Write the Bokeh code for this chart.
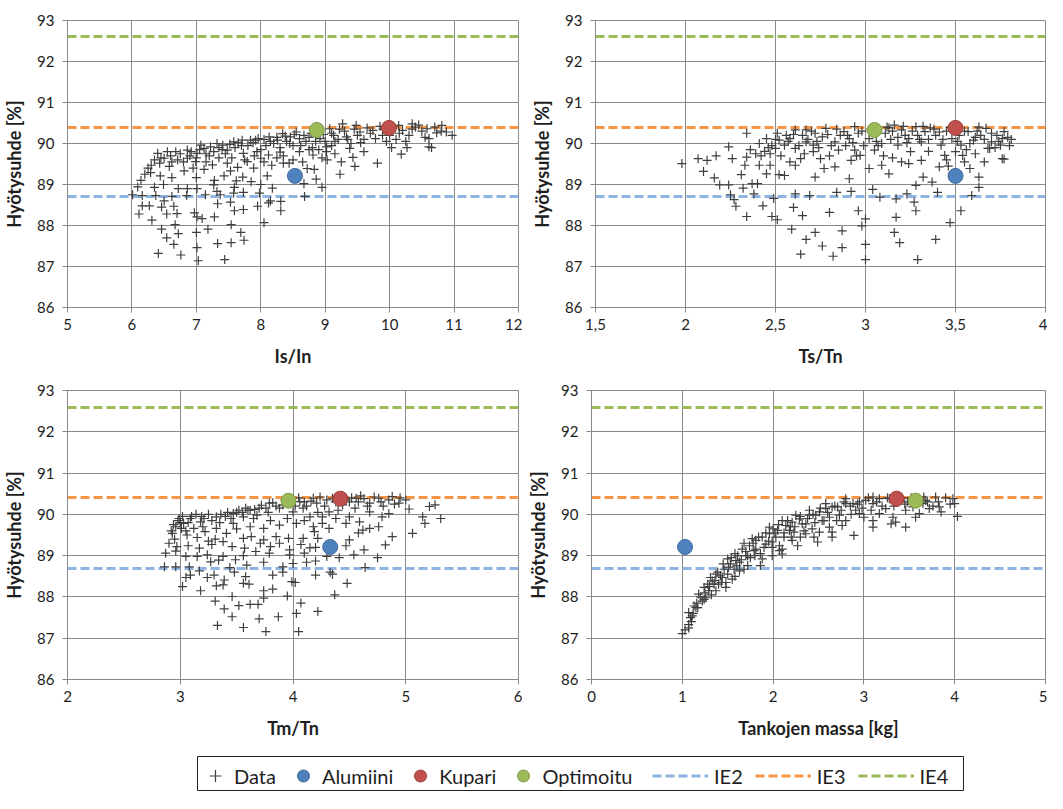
from bokeh.plotting import figure
from bokeh.layouts import column, row
from bokeh.models import Range1d, FixedTicker, Legend, LegendItem
from bokeh.embed import file_html
from bokeh.resources import INLINE

# ---------------- data ----------------
Y_TICKS = [86, 87, 88, 89, 90, 91, 92, 93]
Y_LABEL = "Hyötysuhde [%]"

IE_NAMES = ["IE2", "IE3", "IE4"]
IE_LEVELS = [88.7, 90.4, 92.6]

SPECIAL_NAMES = ["Alumiini", "Kupari", "Optimoitu"]
SPECIAL_ETA = [89.21, 90.38, 90.33]
ISIN_SPECIAL_X = [8.53, 9.99, 8.87]
TSTN_SPECIAL_X = [3.50, 3.50, 3.05]
TMTN_SPECIAL_X = [4.33, 4.42, 3.96]
MASS_SPECIAL_X = [1.03, 3.36, 3.57]

ISIN_POINTS = [
    (6.41, 87.32), (6.76, 87.28), (7.03, 87.14), (7.44, 87.17), (6.65, 87.54), (6.54, 87.70), (6.72, 87.80),
    (6.46, 87.91), (7.00, 87.83), (7.01, 87.46), (7.33, 87.56), (7.54, 87.58), (7.69, 87.83), (7.74, 87.64),
    (7.18, 87.91), (7.54, 88.02), (6.67, 88.02), (6.31, 88.13), (6.11, 88.28), (6.54, 88.28), (6.70, 88.29),
    (6.97, 88.31), (7.01, 88.21), (7.09, 88.17), (7.28, 88.21), (7.59, 88.36), (7.73, 88.39), (8.05, 88.07),
    (8.31, 88.36), (6.16, 88.48), (6.27, 88.48), (6.46, 88.45), (6.65, 88.47), (7.33, 88.53), (7.53, 88.57),
    (7.95, 88.47), (8.12, 88.55), (8.31, 88.59), (8.68, 88.71), (6.01, 88.75), (6.16, 88.73), (6.37, 88.73),
    (6.62, 88.71), (6.85, 88.73), (7.14, 88.75), (7.37, 88.75), (7.58, 88.79), (7.73, 88.81), (7.98, 88.79),
    (8.15, 88.60), (6.50, 88.60), (6.09, 88.94), (6.35, 88.93), (6.49, 89.00), (6.72, 88.90), (6.86, 88.90),
    (7.01, 88.90), (7.27, 88.99), (7.32, 88.83), (7.59, 88.93), (7.85, 89.07), (8.00, 89.00), (8.18, 88.91),
    (8.67, 89.02), (8.95, 88.93), (6.14, 89.10), (6.29, 89.29), (6.44, 89.21), (6.62, 89.17), (6.81, 89.33),
    (7.00, 89.17), (7.28, 89.10), (7.43, 89.21), (7.53, 89.33), (7.62, 89.09), (7.72, 89.18), (7.89, 89.40),
    (8.10, 89.21), (8.44, 89.52), (8.72, 89.39), (8.86, 89.13), (8.83, 89.37), (9.23, 89.25), (9.46, 89.44),
    (9.43, 89.66), (9.81, 89.52), (6.30, 89.47), (6.43, 89.52), (6.58, 89.44), (6.50, 89.64), (6.71, 89.60),
    (6.86, 89.64), (6.99, 89.56), (7.12, 89.37), (7.25, 89.48), (7.48, 89.52), (7.64, 89.42), (7.79, 89.56),
    (8.00, 89.64), (8.17, 89.47), (8.35, 89.52), (9.03, 89.60), (9.60, 89.80), (10.03, 89.90), (10.18, 89.74),
    (10.27, 89.90), (10.61, 89.92), (10.61, 90.12), (6.40, 89.76), (6.55, 89.80), (6.68, 89.80), (6.86, 89.84),
    (7.01, 89.76), (7.12, 89.88), (7.27, 89.80), (7.48, 89.84), (7.73, 89.76), (7.94, 89.80), (8.12, 89.72),
    (8.30, 89.79), (8.60, 89.80), (8.81, 89.72), (9.02, 89.80), (9.38, 89.88), (7.07, 89.96), (7.32, 90.00),
    (7.58, 90.04), (7.84, 90.08), (8.05, 90.10), (8.26, 90.08), (8.46, 90.16), (8.67, 90.20), (8.92, 90.12),
    (9.13, 90.20), (9.33, 90.16), (9.54, 90.28), (9.74, 90.32), (9.89, 90.20), (10.20, 90.32), (10.40, 90.40),
    (10.58, 90.36), (10.73, 90.26), (10.81, 90.44), (10.35, 90.48), (10.14, 90.44), (9.48, 90.44), (9.27, 90.48),
    (9.07, 90.36), (8.55, 90.28), (8.34, 90.24), (8.13, 90.16), (7.92, 90.08), (7.71, 90.08), (7.41, 89.96),
    (10.97, 90.20), (10.80, 90.30), (10.65, 89.90), (8.20, 90.00), (8.40, 90.05), (8.50, 89.95), (8.70, 90.05),
    (8.80, 89.90), (9.00, 90.05), (9.10, 90.25), (9.20, 90.10), (9.30, 90.30), (9.40, 90.00), (9.50, 90.20),
    (9.60, 90.10), (9.70, 90.25), (9.90, 90.35), (10.00, 90.20), (10.10, 90.10), (10.30, 90.20), (10.50, 90.30),
    (10.45, 90.45), (9.10, 89.95), (8.90, 89.85), (8.30, 89.90), (8.00, 89.85), (7.80, 89.95), (7.60, 89.90),
    (7.40, 89.85), (7.20, 89.70), (7.00, 89.65), (6.90, 89.70), (6.80, 89.55),
    (6.20, 89.25), (6.25, 89.40), (6.35, 89.60), (6.45, 89.65), (6.60, 89.70), (6.62, 89.55), (6.75, 89.75),
    (6.92, 89.80), (7.05, 89.85), (7.15, 89.75), (7.22, 89.92), (7.35, 89.90), (7.45, 89.75), (7.52, 89.98),
    (7.65, 90.02), (7.70, 89.95), (7.88, 90.02), (7.96, 90.12), (8.08, 89.95), (8.15, 90.05), (8.25, 90.15),
    (8.38, 90.18), (8.45, 90.00), (8.52, 90.22), (8.60, 90.12), (8.62, 89.95), (8.75, 90.15), (8.78, 90.25),
    (8.85, 90.05), (8.97, 90.22), (9.02, 89.92), (9.15, 90.05), (9.22, 90.35), (9.35, 90.10), (9.45, 90.35),
    (9.55, 90.02), (9.65, 90.38), (9.78, 90.12), (9.85, 90.42), (9.95, 90.05), (10.05, 90.40), (10.15, 90.25),
    (10.25, 90.05), (10.35, 90.35), (10.55, 90.15), (10.70, 90.40), (10.88, 90.28), (8.35, 89.70), (8.50, 89.60),
    (8.65, 89.55), (8.75, 89.85), (8.95, 89.65), (9.15, 89.75), (9.25, 89.55), (7.35, 89.65), (7.55, 89.65),
    (7.75, 89.60), (7.90, 89.70), (8.05, 89.55), (8.25, 89.65), (6.95, 89.40), (7.15, 89.55),
]

TSTN_POINTS = [
    (1.98, 89.51), (2.07, 89.63), (2.12, 89.59), (2.17, 89.70), (2.24, 89.92), (2.10, 89.32), (2.16, 89.16),
    (2.19, 88.99), (2.24, 88.99), (2.25, 88.75), (2.27, 88.63), (2.28, 88.47), (2.26, 89.63), (2.31, 89.24),
    (2.33, 89.47), (2.34, 89.67), (2.32, 88.91), (2.37, 89.02), (2.34, 88.22), (2.40, 89.02), (2.38, 88.77),
    (2.43, 88.48), (2.39, 89.75), (2.41, 89.47), (2.45, 89.26), (2.47, 89.47), (2.44, 89.81), (2.47, 89.75),
    (2.49, 88.66), (2.48, 88.22), (2.51, 88.14), (2.52, 89.24), (2.55, 89.22), (2.50, 89.88), (2.52, 90.08),
    (2.55, 89.96), (2.51, 90.25), (2.56, 90.20), (2.59, 87.91), (2.60, 88.44), (2.61, 88.77), (2.61, 89.47),
    (2.64, 89.63), (2.61, 90.33), (2.65, 90.20), (2.67, 90.04), (2.71, 89.80), (2.67, 87.66), (2.65, 88.24),
    (2.64, 87.30), (2.69, 88.73), (2.72, 89.18), (2.72, 87.83), (2.72, 90.25), (2.75, 89.63), (2.76, 87.50),
    (2.77, 89.39), (2.80, 88.32), (2.82, 87.25), (2.83, 89.43), (2.84, 88.81), (2.85, 89.84), (2.87, 87.87),
    (2.87, 87.46), (2.88, 90.29), (2.91, 90.12), (2.92, 89.59), (2.92, 88.83), (2.96, 88.36), (2.97, 89.71),
    (2.98, 87.99), (3.00, 87.54), (3.00, 87.17), (3.00, 88.16), (3.02, 89.39), (3.04, 88.88), (3.05, 89.84),
    (3.08, 88.69), (3.09, 89.47), (3.13, 89.26), (3.16, 87.83), (3.17, 88.20), (3.17, 88.65), (3.18, 89.96),
    (3.19, 87.58), (3.20, 89.55), (3.23, 88.77), (3.24, 89.51), (3.27, 88.57), (3.28, 88.98), (3.28, 88.36),
    (3.29, 87.17), (3.31, 89.59), (3.32, 89.18), (3.35, 89.81), (3.37, 89.06), (3.39, 87.66), (3.40, 88.81),
    (3.41, 89.43), (3.44, 89.71), (3.47, 88.07), (3.53, 88.36), (3.53, 89.96), (3.54, 89.71), (3.58, 89.39),
    (3.59, 88.73), (3.61, 89.75), (3.63, 89.18), (3.63, 88.93), (3.66, 89.55), (3.68, 89.88), (3.70, 90.04),
    (3.73, 90.20), (3.76, 89.63), (3.76, 90.12), (3.20, 90.33), (3.28, 90.41), (3.33, 90.29), (3.16, 90.45),
    (3.11, 90.25), (2.94, 90.41), (2.78, 90.37), (2.83, 90.04), (2.76, 90.16), (2.67, 90.33), (2.58, 90.12),
    (2.45, 90.12), (2.41, 90.00), (2.34, 90.25), (3.02, 90.12), (3.09, 90.00), (3.24, 90.12), (3.31, 90.04),
    (3.39, 90.20), (3.42, 89.96), (3.48, 90.12), (3.57, 90.29), (3.64, 90.20), (3.67, 90.37), (3.60, 90.08),
    (3.75, 89.96), (3.77, 90.29), (2.94, 89.84), (2.91, 89.14), (2.71, 89.96), (2.61, 89.88), (3.81, 90.10),
    (3.77, 89.62), (3.69, 89.88), (3.13, 90.38), (3.22, 90.20), (3.36, 90.38), (3.45, 90.30), (3.52, 90.20),
    (3.62, 90.30), (2.98, 90.30), (2.86, 90.20), (2.68, 90.10), (2.48, 89.95), (3.30, 90.10), (3.14, 90.10),
    (3.45, 89.60), (3.55, 89.55), (3.10, 89.70),
    (2.36, 89.85), (2.42, 89.70), (2.46, 89.90), (2.50, 90.10), (2.53, 89.70), (2.57, 90.05), (2.60, 90.22),
    (2.63, 89.95), (2.66, 89.75), (2.70, 90.30), (2.73, 90.05), (2.74, 89.90), (2.79, 90.22), (2.81, 89.95),
    (2.84, 90.35), (2.89, 89.95), (2.90, 90.20), (2.93, 90.02), (2.96, 90.25), (2.99, 89.95), (3.03, 90.35),
    (3.06, 90.05), (3.07, 89.95), (3.12, 90.40), (3.15, 90.30), (3.18, 90.15), (3.21, 90.42), (3.23, 90.02),
    (3.26, 90.30), (3.29, 90.20), (3.32, 90.42), (3.35, 90.10), (3.38, 90.35), (3.41, 90.28), (3.43, 90.10),
    (3.47, 90.40), (3.51, 90.05), (3.55, 90.30), (3.58, 90.00), (3.61, 90.15), (3.63, 90.40), (3.66, 90.10),
    (3.70, 90.25), (3.72, 89.90), (3.74, 90.05), (3.79, 90.15), (3.80, 89.95), (3.46, 89.45), (3.50, 89.80),
    (3.56, 89.85), (3.25, 89.80), (3.15, 89.65), (2.95, 89.70), (2.80, 89.70), (2.58, 89.55),
]

TMTN_POINTS = [
    (3.33, 87.31), (3.56, 87.26), (3.76, 87.16), (4.05, 87.16), (3.46, 87.52), (3.70, 87.47), (3.87, 87.52),
    (4.03, 87.60), (3.39, 87.71), (3.52, 87.79), (3.62, 87.82), (3.69, 87.82), (4.07, 87.85), (4.22, 87.65),
    (3.31, 87.90), (3.46, 88.01), (3.74, 87.97), (3.95, 88.02), (4.37, 88.05), (3.18, 88.15), (3.32, 88.27),
    (3.38, 88.29), (3.56, 88.33), (3.61, 88.31), (3.74, 88.15), (3.82, 88.19), (4.02, 88.35), (4.48, 88.33),
    (3.02, 88.25), (3.05, 88.47), (3.09, 88.53), (3.24, 88.47), (3.30, 88.53), (3.39, 88.41), (3.48, 88.60),
    (3.58, 88.49), (3.82, 88.53), (3.91, 88.60), (3.99, 88.37), (4.20, 88.53), (4.33, 88.60), (4.35, 88.55),
    (2.86, 88.73), (2.96, 88.73), (3.08, 88.73), (3.17, 88.63), (3.27, 88.85), (3.34, 88.89), (3.44, 88.71),
    (3.59, 88.77), (3.74, 88.84), (3.91, 88.73), (4.00, 88.81), (4.12, 88.84), (4.20, 88.87), (4.64, 88.71),
    (2.87, 89.06), (2.96, 89.11), (3.05, 88.98), (3.15, 88.98), (3.24, 89.02), (3.38, 88.98), (3.49, 88.90),
    (3.56, 89.00), (3.67, 89.10), (3.79, 89.06), (3.97, 89.02), (4.10, 89.06), (4.30, 88.98), (4.41, 88.95),
    (4.54, 89.02), (4.63, 89.14), (4.75, 88.95), (2.90, 89.30), (2.97, 89.22), (3.07, 89.24), (3.17, 89.18),
    (3.28, 89.27), (3.38, 89.34), (3.46, 89.22), (3.57, 89.18), (3.71, 89.30), (3.80, 89.22), (3.88, 89.30),
    (3.97, 89.14), (4.07, 89.27), (4.15, 89.19), (4.47, 89.24), (4.50, 89.38), (4.82, 89.26), (4.88, 89.46),
    (5.06, 89.54), (2.93, 89.54), (3.06, 89.50), (3.15, 89.44), (3.22, 89.58), (3.31, 89.40), (3.41, 89.54),
    (3.56, 89.42), (3.63, 89.46), (3.74, 89.38), (3.85, 89.46), (3.96, 89.42), (4.09, 89.42), (4.19, 89.58),
    (4.22, 89.42), (4.32, 89.66), (4.68, 89.66), (4.76, 89.70), (4.62, 89.62), (2.96, 89.70), (3.03, 89.78),
    (3.12, 89.66), (3.21, 89.90), (3.32, 89.66), (3.47, 89.78), (3.62, 89.70), (3.74, 89.66), (3.88, 89.74),
    (4.03, 89.78), (4.18, 89.70), (4.26, 89.78), (4.47, 89.78), (4.50, 89.94), (4.59, 89.82), (4.79, 89.94),
    (4.85, 90.02), (5.15, 89.94), (5.17, 89.78), (5.31, 89.90), (5.21, 90.19), (5.26, 90.23), (5.03, 90.13),
    (4.94, 90.27), (3.32, 89.94), (3.47, 90.02), (3.62, 90.10), (3.76, 90.15), (3.91, 90.23), (4.09, 90.15),
    (4.21, 90.27), (4.32, 90.06), (4.44, 90.23), (4.56, 90.39), (4.68, 90.27), (4.76, 90.39), (4.88, 90.43),
    (4.35, 90.39), (4.18, 90.39), (4.06, 90.31), (3.79, 90.27), (3.68, 89.98), (3.56, 89.94), (3.18, 89.82),
    (3.09, 89.90), (3.01, 89.66), (2.99, 89.90), (4.26, 89.94), (4.15, 89.94), (4.00, 90.06), (4.68, 90.06),
    (3.50, 90.05), (3.70, 90.15), (3.85, 90.20), (4.10, 90.30), (4.30, 90.35), (4.50, 90.30), (4.60, 90.45),
    (4.95, 90.40), (3.40, 89.95), (3.60, 90.10), (3.00, 89.80), (3.05, 89.60), (2.95, 89.40), (4.40, 90.10),
    (4.55, 90.15), (4.80, 90.20),
    (2.92, 89.60), (2.94, 89.75), (2.98, 89.85), (3.02, 89.95), (3.07, 89.80), (3.10, 89.95), (3.14, 90.00),
    (3.19, 89.95), (3.25, 90.00), (3.28, 89.85), (3.36, 90.00), (3.42, 90.05), (3.45, 89.90), (3.52, 90.10),
    (3.55, 90.05), (3.58, 90.15), (3.66, 90.12), (3.72, 90.22), (3.78, 90.05), (3.82, 90.28), (3.88, 90.15),
    (3.93, 90.35), (4.02, 90.20), (4.05, 90.40), (4.12, 90.20), (4.16, 90.32), (4.24, 90.42), (4.28, 90.20),
    (4.38, 90.30), (4.42, 90.42), (4.47, 90.35), (4.52, 90.40), (4.58, 90.30), (4.63, 90.38), (4.66, 90.20),
    (4.72, 90.42), (4.78, 90.30), (4.85, 90.35), (4.90, 90.25), (5.00, 90.35), (3.20, 89.70), (3.35, 89.80),
    (3.50, 89.65), (3.65, 89.90), (3.80, 89.85), (3.95, 89.90), (4.10, 89.85), (4.22, 90.05), (4.38, 89.90),
    (4.20, 89.20), (4.58, 89.55), (3.25, 89.35),
]

MASS_POINTS = [
    (1.00, 87.11), (1.07, 87.25), (1.09, 87.50), (1.07, 87.62), (1.13, 87.78), (1.17, 87.74), (1.22, 87.90),
    (1.26, 87.98), (1.18, 88.07), (1.24, 88.23), (1.28, 88.31), (1.33, 88.39), (1.37, 88.55), (1.31, 88.47),
    (1.40, 88.31), (1.48, 88.23), (1.44, 88.47), (1.46, 88.67), (1.53, 88.80), (1.57, 88.67), (1.50, 88.92),
    (1.61, 89.00), (1.63, 88.84), (1.68, 88.67), (1.66, 89.16), (1.74, 89.24), (1.72, 89.00), (1.81, 89.37),
    (1.79, 89.12), (1.86, 88.76), (1.88, 89.45), (1.90, 89.20), (1.96, 89.53), (1.99, 89.33), (2.05, 89.61),
    (2.07, 89.12), (2.10, 89.04), (2.12, 89.45), (2.14, 89.73), (2.21, 89.81), (2.23, 89.57), (2.27, 89.24),
    (2.29, 89.89), (2.36, 89.77), (2.40, 89.98), (2.43, 89.65), (2.49, 89.33), (2.51, 90.06), (2.54, 89.85),
    (2.58, 90.14), (2.62, 89.93), (2.65, 89.57), (2.71, 90.18), (2.73, 89.98), (2.76, 89.73), (2.80, 90.26),
    (2.89, 89.49), (2.91, 90.10), (2.95, 90.30), (3.00, 89.93), (3.10, 89.69), (3.10, 90.26), (3.17, 90.38),
    (3.24, 90.14), (3.30, 89.77), (3.35, 89.81), (3.46, 89.69), (3.48, 90.30), (3.61, 90.02), (3.68, 90.34),
    (3.79, 90.42), (3.83, 90.18), (3.85, 90.06), (3.98, 90.38), (4.00, 90.26), (4.03, 89.95), (3.28, 90.38),
    (3.10, 90.42), (2.88, 90.26), (2.65, 90.18), (2.47, 89.98), (2.32, 89.77), (2.18, 89.61), (2.03, 89.45),
    (1.92, 89.28), (1.81, 89.16), (1.70, 89.00), (1.59, 88.88), (1.51, 88.72), (1.42, 88.51), (1.35, 88.31),
    (1.29, 88.15), (1.24, 87.94), (1.15, 87.74), (1.11, 87.54), (1.07, 87.33), (1.77, 89.41), (1.96, 89.69),
    (2.10, 89.85), (2.25, 89.98), (2.40, 90.10), (2.58, 90.26), (2.80, 90.38), (3.02, 90.34), (3.39, 90.34),
    (3.57, 90.38), (3.72, 90.14), (3.46, 90.10), (3.17, 90.02), (2.95, 90.02), (2.80, 89.85), (2.62, 89.69),
    (2.51, 89.57), (2.36, 89.53), (2.21, 89.37), (2.07, 89.24), (1.99, 89.00), (1.88, 88.92), (1.72, 88.76),
    (1.63, 88.63), (1.55, 88.43), (1.48, 88.35), (1.37, 88.15), (2.10, 89.16), (1.99, 89.20), (2.65, 89.45),
    (3.10, 89.85), (3.32, 89.93), (3.57, 89.93), (3.54, 90.18), (3.65, 90.26),
    (1.03, 87.20), (1.10, 87.40), (1.12, 87.60), (1.16, 87.85), (1.20, 88.00), (1.25, 88.10), (1.30, 88.25),
    (1.32, 88.05), (1.36, 88.40), (1.39, 88.60), (1.43, 88.35), (1.45, 88.80), (1.50, 88.55), (1.54, 88.95),
    (1.58, 89.05), (1.60, 88.75), (1.65, 88.90), (1.68, 89.30), (1.70, 89.10), (1.75, 88.95), (1.78, 89.30),
    (1.84, 89.45), (1.86, 89.05), (1.92, 89.55), (1.95, 89.35), (2.00, 89.65), (2.02, 89.55), (2.06, 89.75),
    (2.12, 89.55), (2.16, 89.85), (2.19, 89.70), (2.24, 89.70), (2.30, 89.95), (2.34, 89.60), (2.38, 89.90),
    (2.44, 90.00), (2.46, 89.80), (2.52, 90.15), (2.56, 89.85), (2.60, 90.05), (2.68, 90.20), (2.70, 89.85),
    (2.75, 90.10), (2.78, 90.30), (2.85, 90.20), (2.86, 90.00), (2.93, 90.25), (2.98, 90.15), (3.05, 90.40),
    (3.08, 90.10), (3.14, 90.30), (3.20, 90.20), (3.26, 90.40), (3.33, 90.20), (3.42, 90.40), (3.45, 90.25),
    (3.52, 90.40), (3.60, 90.30), (3.66, 90.42), (3.70, 90.30), (3.76, 90.20), (3.82, 90.30), (3.90, 90.40),
    (3.95, 90.25), (1.58, 88.50), (1.80, 89.00), (2.20, 89.45), (2.45, 89.45), (2.30, 89.45),
]

PANELS = [
    ("Is/In", (5, 12), [5, 6, 7, 8, 9, 10, 11, 12], ISIN_POINTS, ISIN_SPECIAL_X),
    ("Ts/Tn", (1.5, 4), [1.5, 2, 2.5, 3, 3.5, 4], TSTN_POINTS, TSTN_SPECIAL_X),
    ("Tm/Tn", (2, 6), [2, 3, 4, 5, 6], TMTN_POINTS, TMTN_SPECIAL_X),
    ("Tankojen massa [kg]", (0, 5), [0, 1, 2, 3, 4, 5], MASS_POINTS, MASS_SPECIAL_X),
]

# ---------------- style ----------------
FONT = "Lato"
GRID = "#8a8a8a"
TEXT = "#1e1e1e"
DATA_COLOR = "#3f3f3f"
SPECIAL_FILL = ["#4F81BD", "#C0504D", "#9BBB59"]
SPECIAL_LINE = ["#3f6a9c", "#9c3e3b", "#7d9a46"]
IE_COLORS = ["#8DB4E2", "#F79646", "#9BBB59"]
DASH = "9 4"


def tick_label(v):
    return ("%g" % v).replace(".", ",")


def make_panel(spec, width, height, b_left, b_right, b_top, b_bottom):
    xlabel, xr, xticks, pts, special_x = spec
    p = figure(width=width, height=height, x_range=Range1d(*xr), y_range=Range1d(86, 93),
               output_backend="svg", toolbar_location=None, title=None,
               min_border_left=b_left, min_border_right=b_right,
               min_border_top=b_top, min_border_bottom=b_bottom)
    p.background_fill_color = "white"
    p.border_fill_color = "white"
    p.outline_line_color = GRID
    p.outline_line_width = 1

    p.xaxis.ticker = FixedTicker(ticks=xticks)
    p.yaxis.ticker = FixedTicker(ticks=Y_TICKS)
    p.xaxis.major_label_overrides = {t: tick_label(t) for t in xticks}
    p.xaxis.axis_label = xlabel
    p.yaxis.axis_label = Y_LABEL
    for ax in p.axis:
        ax.axis_line_color = GRID
        ax.major_tick_line_color = GRID
        ax.major_tick_out = 5
        ax.major_tick_in = 0
        ax.minor_tick_line_color = None
        ax.major_label_text_font = FONT
        ax.major_label_text_font_size = "15px"
        ax.major_label_text_color = TEXT
        ax.axis_label_text_font = FONT
        ax.axis_label_text_font_style = "bold"
        ax.axis_label_text_font_size = "18px"
        ax.axis_label_text_color = TEXT
    p.yaxis.major_label_standoff = 8
    p.yaxis.axis_label_standoff = 9
    p.xaxis.major_label_standoff = 6
    p.xaxis.axis_label_standoff = 12
    p.grid.grid_line_color = GRID
    p.grid.grid_line_width = 1

    p.hspan(y=IE_LEVELS, line_color=IE_COLORS, line_width=3, line_dash=DASH)
    xs = [a for a, b in pts]
    ys = [b for a, b in pts]
    p.scatter(x=xs, y=ys, marker="cross", size=9, line_color=DATA_COLOR, line_width=1.2)
    p.scatter(x=special_x, y=SPECIAL_ETA, marker="circle", size=15,
              fill_color=SPECIAL_FILL, line_color=SPECIAL_LINE, line_width=1)
    return p


p1 = make_panel(PANELS[0], 522, 378, 62, 4, 13, 71)
p2 = make_panel(PANELS[1], 525, 378, 73, 2, 20, 71)
p3 = make_panel(PANELS[2], 522, 376, 62, 4, 12, 75)
p4 = make_panel(PANELS[3], 525, 376, 69, 2, 12, 75)

# ---------------- legend ----------------
lg = figure(width=1047, height=37, x_range=Range1d(0, 1), y_range=Range1d(0, 1),
            output_backend="svg", toolbar_location=None, title=None,
            x_axis_type=None, y_axis_type=None,
            min_border_left=197, min_border_right=84, min_border_top=2, min_border_bottom=0)
lg.grid.visible = False
lg.outline_line_color = "#222222"
lg.outline_line_width = 1

NAN = [float("nan")]
r_data = lg.scatter(x=NAN, y=NAN, marker="cross", line_color=DATA_COLOR, line_width=1.2)
r_special = [lg.scatter(x=NAN, y=NAN, marker="circle", fill_color=f, line_color=l, line_width=1)
             for f, l in zip(SPECIAL_FILL, SPECIAL_LINE)]
r_ie = [lg.line(x=NAN, y=NAN, line_color=c, line_width=3, line_dash=DASH) for c in IE_COLORS]

common = dict(orientation="horizontal", margin=0, padding=2, border_line_color=None,
              background_fill_alpha=0, label_text_font=FONT, label_text_font_size="20px",
              label_text_color=TEXT)
leg1 = Legend(items=[LegendItem(label="Data", renderers=[r_data])] +
              [LegendItem(label=n, renderers=[r]) for n, r in zip(SPECIAL_NAMES, r_special)],
              location=(3, 0), glyph_width=30, glyph_height=31, label_standoff=4, spacing=12, **common)
leg2 = Legend(items=[LegendItem(label=n, renderers=[r]) for n, r in zip(IE_NAMES, r_ie)],
              location=(455, 0), glyph_width=56, glyph_height=31, label_standoff=6, spacing=12, **common)
lg.add_layout(leg1)
lg.add_layout(leg2)

layout = column(row(p1, p2), row(p3, p4), lg)
open("out.html", "w").write(file_html(layout, INLINE, title="Hyötysuhde"))
